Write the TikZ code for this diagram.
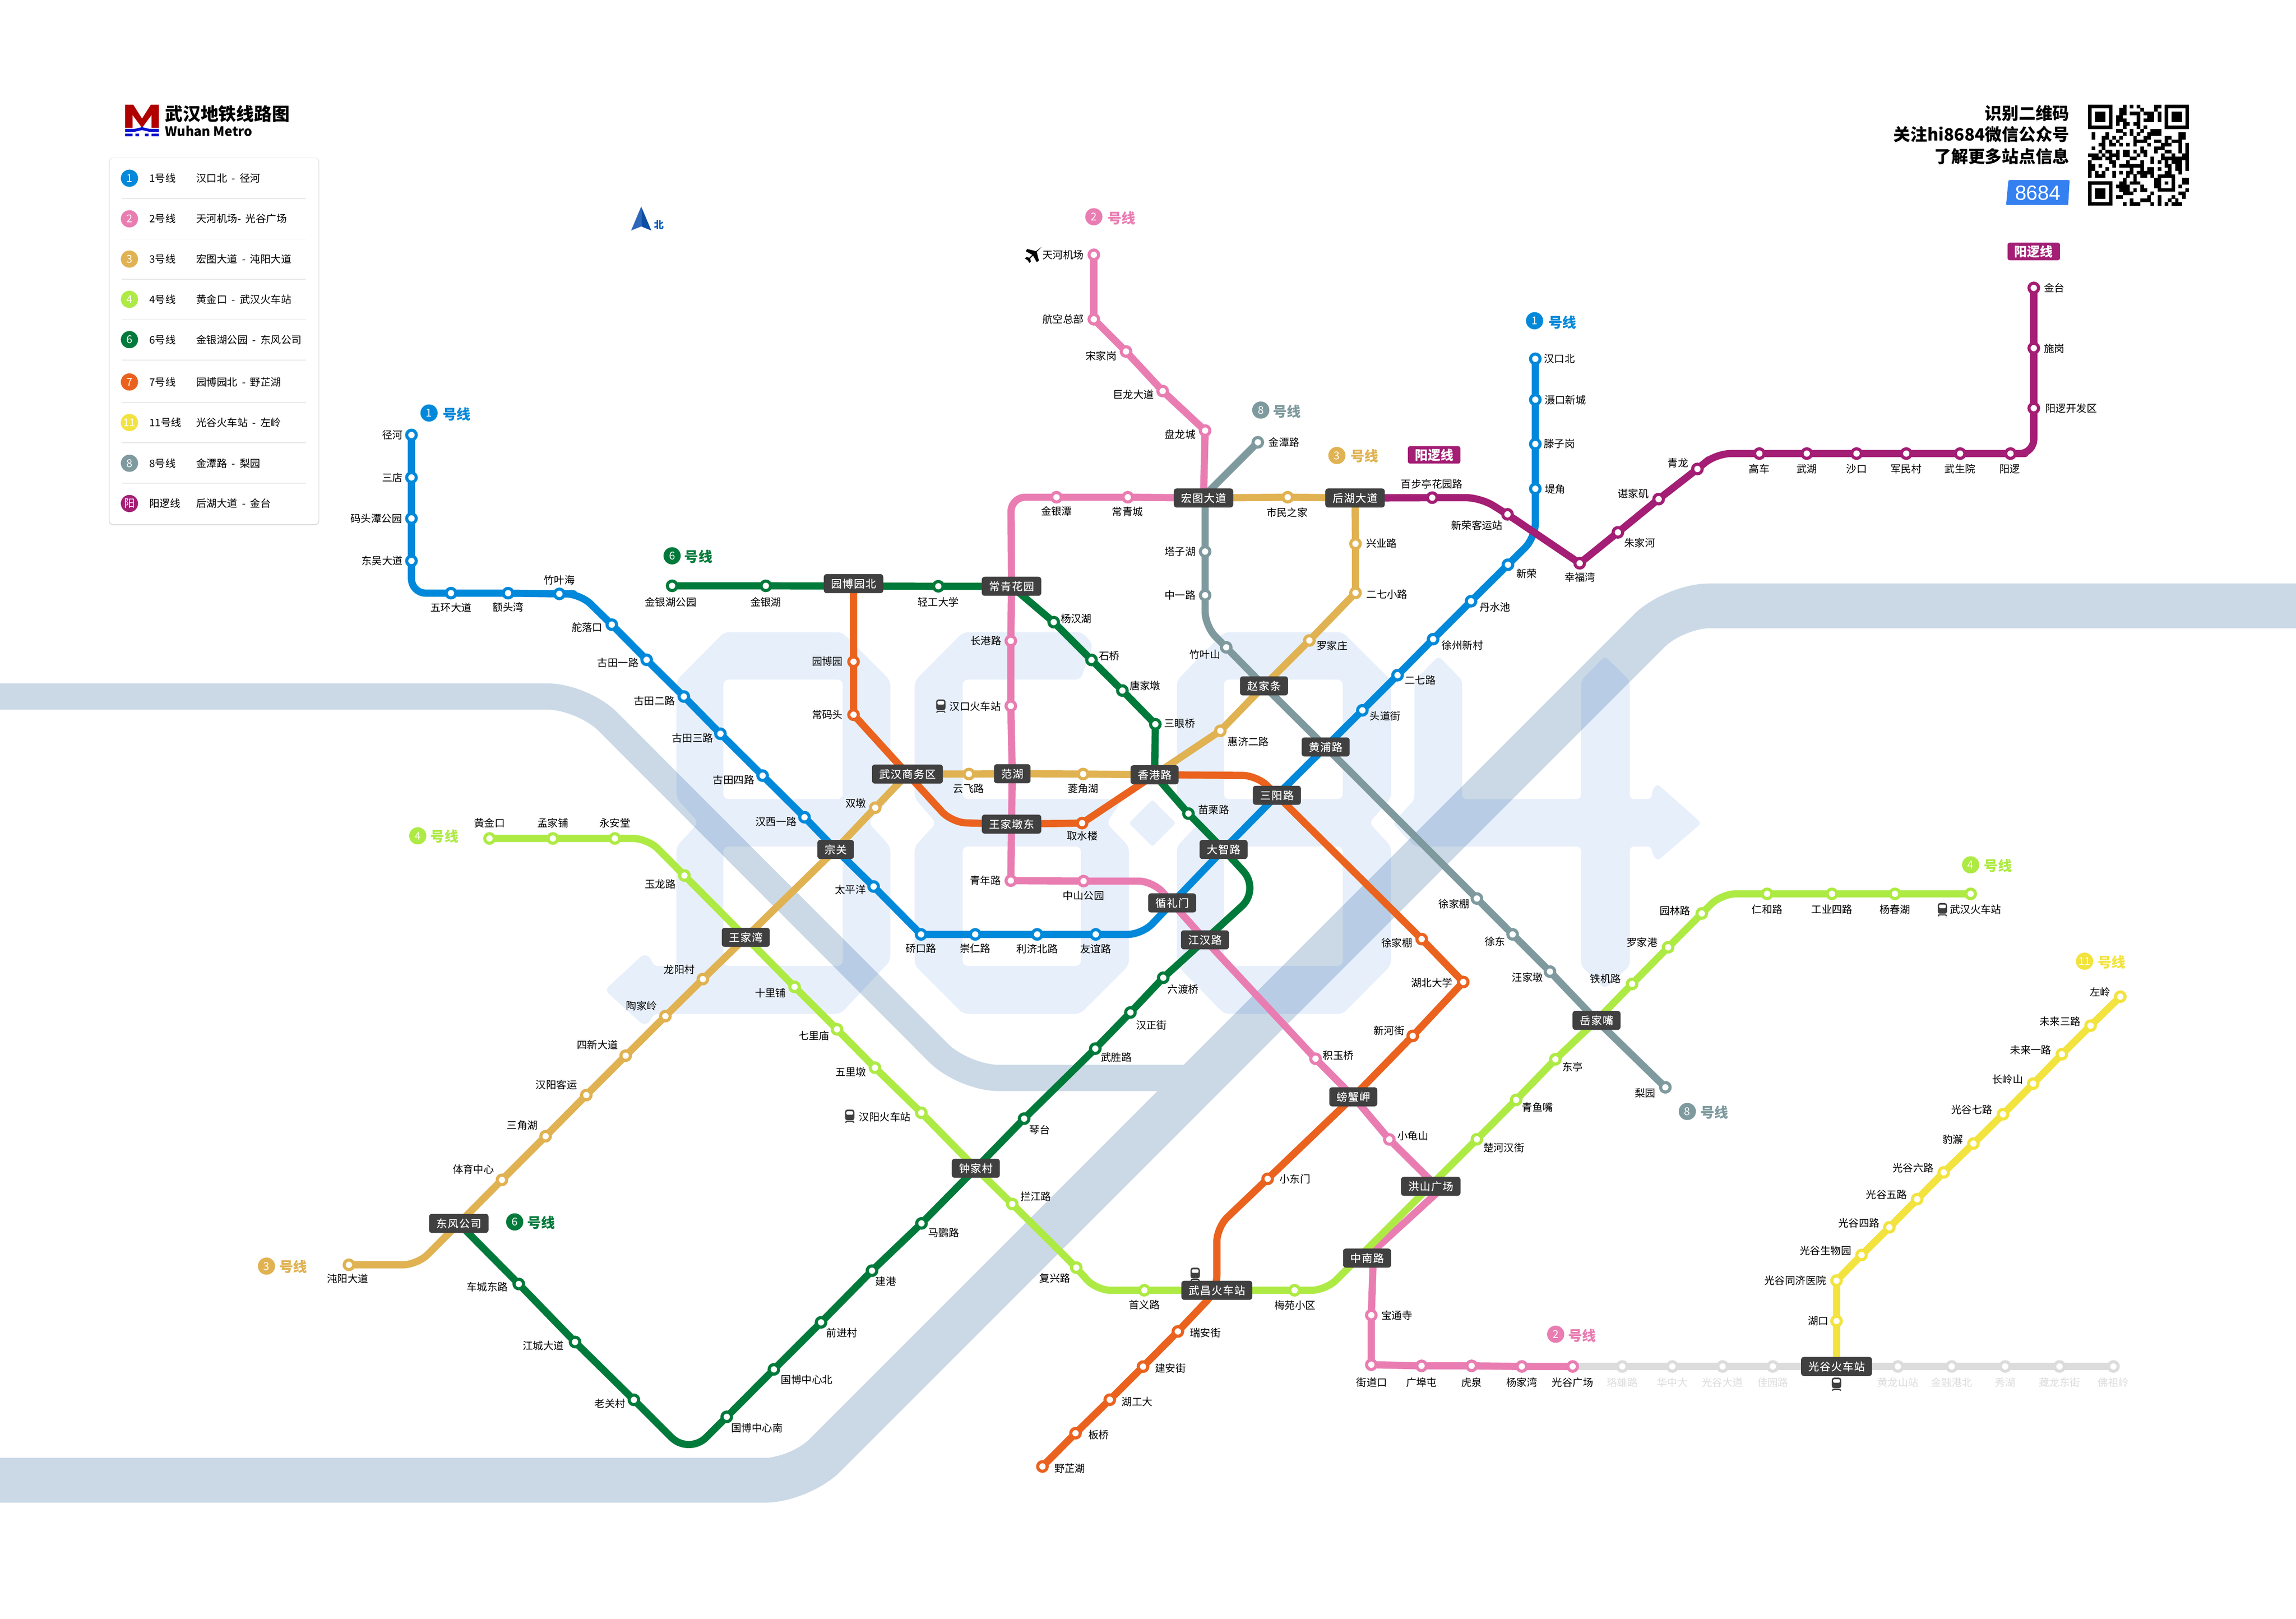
\documentclass[tikz,border=0pt]{standalone}
\usepackage{fontspec}
\setmainfont{Noto Sans CJK SC}
\newfontfamily\xf[LetterSpace=7,FakeBold=0.4]{Noto Sans CJK SC}
\newfontfamily\numf{Liberation Sans}
\definecolor{cA}{HTML}{0089DA}
\definecolor{cB}{HTML}{E97DB2}
\definecolor{cC}{HTML}{E0B252}
\definecolor{cD}{HTML}{AEEA44}
\definecolor{cF}{HTML}{007A3A}
\definecolor{cG}{HTML}{EA621E}
\definecolor{cK}{HTML}{F2E33E}
\definecolor{cH}{HTML}{7F9A9E}
\definecolor{cY}{HTML}{A31E74}
\definecolor{cX}{HTML}{DCDCDC}
\definecolor{xdark}{HTML}{404040}
\definecolor{river}{HTML}{CBD9E6}
\definecolor{wmark}{RGB}{25,105,225}
\definecolor{tagblue}{HTML}{3580F0}
\definecolor{sepgrey}{HTML}{E6E6E6}
\definecolor{logored}{HTML}{B00000}
\definecolor{logoblue}{HTML}{0A10D0}
\definecolor{nleft}{HTML}{2E68BB}
\definecolor{nright}{HTML}{0C4EA5}
\definecolor{ntext}{HTML}{0A5CC0}
\tikzset{
  stp/.style={circle,draw=#1,fill=white,line width=3pt,minimum size=9.3pt,inner sep=0pt},
  stlab/.style={font=\fontsize{10}{12}\selectfont,text=black,inner sep=0pt},
  xfer/.style={fill=xdark,text=white,rounded corners=2.8pt,minimum height=18.5pt,inner ysep=0pt,inner xsep=7pt,font=\xf\fontsize{10.4}{12}\selectfont},
  metro/.style={draw=#1,line width=7pt,rounded corners=3pt,line join=round},
  bnd/.style={rounded corners=14pt},
  bndl/.style={rounded corners=24pt},
  strt/.style={rounded corners=3pt},
  bdg/.style={circle,fill=#1,text=white,minimum size=16.7pt,inner sep=0pt,font=\fontsize{10.5}{12}\selectfont},
  lnname/.style={text=#1,inner sep=0pt,font=\bfseries\fontsize{13.5}{14}\selectfont},
  linetag/.style={fill=cY,text=white,rounded corners=2pt,minimum width=51pt,minimum height=17pt,inner sep=0pt,font=\bfseries\fontsize{12.5}{13}\selectfont},
  rv/.style={draw=river,line width=#1,rounded corners=34pt},
  legtxt/.style={text=black,inner sep=0pt,anchor=west,font=\fontsize{10}{12}\selectfont},
  toptxt/.style={text=black,inner sep=0pt,anchor=east,font=\bfseries\fontsize{16.4}{18}\selectfont},
}
\pgfdeclarelayer{backl}
\pgfdeclarelayer{linesl}
\pgfsetlayers{backl,linesl,main}
\newcommand\stn[5]{\node[stp=#2] (#1) at (#3) {}; \node[stlab] (#1t) at (#4) {#5};}
\newcommand\stg[4]{\node[stp=cX] (#1) at (#2) {}; \node[stlab,text=cX] (#1t) at (#3) {#4};}
\newcommand\lnm[6]{\node[bdg=#2] (#1b) at (#3) {#5}; \node[lnname=#2] (#1n) at (#4) {#6};}
\newcommand\legrow[6]{\node[bdg=#2] (#1b) at (88.4,#3) {#4}; \node[legtxt] (#1n) at (101.9,#3) {#5}; \node[legtxt] (#1r) at (133.9,#3) {#6};}
\newcommand\trainicon[2]{\begin{scope}[shift={(#1,#2)}]
  \fill[xdark,rounded corners=2.2pt] (-3.2,-4.4) rectangle (3.2,2.9);
  \fill[white,rounded corners=1.2pt] (-2.3,-3.3) rectangle (2.3,-0.9);
  \fill[xdark] (-2.6,3.3) -- (2.6,3.3) -- (3.2,4.6) -- (2.3,4.6) -- (2,4) -- (-2,4) -- (-2.3,4.6) -- (-3.2,4.6) -- cycle;
\end{scope}}
\begin{document}
\begin{tikzpicture}[x=0.5mm,y=-0.5mm]
\useasboundingbox (0,0) rectangle (1568,1105.33);

\begin{pgfonlayer}{backl}
\fill[white] (0,0) rectangle (1568,1105.33);
% rivers
\begin{scope}
\clip (0,0) rectangle (1568,1105.33);
\draw[rv=25.5pt] (-10,475.6) -- (398,475.6) -- (658,736) -- (822,736);
\draw[rv=43.5pt] (-10,1010.7) -- (546.3,1010.7) -- (1143.3,413.7) -- (1580,413.7);
\end{scope}
% watermark
\begin{scope}[fill=wmark,fill opacity=0.1]
\fill[even odd rule] [rounded corners=5pt]
  (494.6,431.6) -- (575,431.6) -- (608,464.6) -- (608,545) -- (593,561.7) -- (608,578) -- (608,656) -- (574,692.3) -- (445.5,692.3) -- (445.5,696) -- (440,700.5) -- (413,676) -- (440,651) -- (445.5,655) -- (445.5,659.5) -- (462,659.5) -- (462,578) -- (477,561.7) -- (462,545) -- (462,464.6) -- cycle
  (494,464) -- (575.6,464) -- (575.6,545.6) -- (494,545.6) -- cycle
  (494,578) -- (575.6,578) -- (575.6,659.5) -- (494,659.5) -- cycle;
\fill[even odd rule] [rounded corners=5pt]
  (657.8,431.6) -- (739,431.6) -- (746.5,440) -- (738,464) -- (657.4,464) -- (657.4,545.6) -- (766.8,545.6) -- (755.7,562) -- (771,578) -- (771,659) -- (737.6,692.3) -- (657.8,692.3) -- (624.6,659) -- (624.6,578) -- (639.4,562) -- (624.6,545) -- (624.6,465) -- cycle
  (657.4,578) -- (738.2,578) -- (738.2,659.5) -- (657.4,659.5) -- cycle;
\fill[rounded corners=2pt] (787,546) -- (803,562) -- (787,578) -- (771,562) -- cycle;
\fill[even odd rule] [rounded corners=5pt]
  (836,431.6) -- (917,431.6) -- (950,464.6) -- (950,545) -- (935,561.7) -- (950,578) -- (950,659) -- (917,692.3) -- (836,692.3) -- (803.7,659) -- (803.7,578) -- (819,561.7) -- (803.7,545) -- (803.7,464.6) -- cycle
  (835.8,464) -- (917,464) -- (917,545.6) -- (835.8,545.6) -- cycle
  (835.8,578) -- (917,578) -- (917,659.5) -- (835.8,659.5) -- cycle;
\fill[rounded corners=4pt]
  (966,464.6) -- (982.5,448) -- (998.6,464.6) -- (998.6,545.6) -- (1079.7,545.6) -- (1079.7,464.6) -- (1096,448) -- (1113,464.6) -- (1113,545.6) -- (1128,545.6) -- (1128,540) -- (1131.6,535) -- (1162,562) -- (1131.6,588) -- (1128,582) -- (1128,578) -- (1113,578) -- (1113,659.5) -- (1096,675) -- (1079.7,659.5) -- (1079.7,578) -- (966,578) -- (951,562) -- (966,546) -- cycle;
\end{scope}
\end{pgfonlayer}

% header
\fill[logored] (85.4,87.3) -- (85.4,71.5) -- (91,71.5) -- (97,81) -- (103,71.5) -- (108.5,71.5) -- (108.5,87.3) -- (103.5,87.3) -- (103.5,78.5) -- (97,87.3) -- (90.5,78.5) -- (90.5,87.3) -- cycle;
\fill[logoblue] (85.4,88) -- (92,88) -- (97,86.8) -- (102,88) -- (108.5,88) -- (108.5,90) -- (102,90) -- (97,88.8) -- (92,90) -- (85.4,90) -- cycle;
\fill[logoblue] (85.4,91.3) rectangle (90.5,93) (92.5,91.3) rectangle (95,93) (99,91.3) rectangle (101.5,93) (103.5,91.3) rectangle (108.5,93);
\node[text=black,inner sep=0pt,font=\bfseries\fontsize{17.3}{18}\selectfont] (title) at (155.3,77.7) {武汉地铁线路图};
\node[text=black,inner sep=0pt,anchor=west,font=\bfseries\fontsize{12.6}{14}\selectfont] (subtitle) at (112.5,89.4) {Wuhan Metro};

% legend
\fill[black!12,rounded corners=4pt] (74.3,107.7) rectangle (218,358.6);
\fill[white,rounded corners=3.5pt] (74.8,107.9) rectangle (217.5,357.8);
\foreach \sy in {135.5,163.2,190.6,218.1,245.8,274.7,302.3,330}
  \draw[sepgrey,line width=0.8pt] (83,\sy) -- (209,\sy);
\legrow{lga}{cA}{121.7}{1}{1号线}{汉口北\ \ -\ \ 径河}
\legrow{lgb}{cB}{149.4}{2}{2号线}{天河机场-\ \ 光谷广场}
\legrow{lgc}{cC}{176.9}{3}{3号线}{宏图大道\ \ -\ \ 沌阳大道}
\legrow{lgd}{cD}{204.4}{4}{4号线}{黄金口\ \ -\ \ 武汉火车站}
\legrow{lgf}{cF}{231.9}{6}{6号线}{金银湖公园\ \ -\ \ 东风公司}
\legrow{lgg}{cG}{260.8}{7}{7号线}{园博园北\ \ -\ \ 野芷湖}
\legrow{lgk}{cK}{288.5}{11}{11号线}{光谷火车站\ \ -\ \ 左岭}
\legrow{lgh}{cH}{316.3}{8}{8号线}{金潭路\ \ -\ \ 梨园}
\legrow{lgy}{cY}{343.8}{阳}{阳逻线}{后湖大道\ \ -\ \ 金台}

% north
\fill[nleft] (437.9,141) -- (431,157.4) -- (437.9,154.6) -- cycle;
\fill[nright] (437.9,141) -- (444.8,157.4) -- (437.9,154.6) -- cycle;
\node[text=ntext,inner sep=0pt,font=\bfseries\fontsize{9.5}{10}\selectfont] (north) at (450,153.5) {北};

% top right
\node[toptxt] (qa) at (1413.4,77.4) {识别二维码};
\node[toptxt] (qb) at (1413.4,91.8) {关注hi8684微信公众号};
\node[toptxt] (qc) at (1413.4,106.6) {了解更多站点信息};
\fill[tagblue,rounded corners=1pt] (1371.6,123) -- (1413.4,123) -- (1412.4,140) -- (1370,140) -- cycle;
\node[text=white,inner sep=0pt,font=\numf\fontsize{20}{20}\selectfont] (tag) at (1391.7,131.6) {8684};
% qr
\begin{scope}[shift={(1426,71.5)},x=1.188mm,y=-1.188mm]
\pgfmathsetseed{8684}
\foreach \i in {0,...,28}{\foreach \j in {0,...,28}{
  \pgfmathsetmacro\qv{rnd}
  \pgfmathtruncatemacro\qskip{(\i<8 && \j<8) || (\i>20 && \j<8) || (\i<8 && \j>20) || (\i>19 && \i<26 && \j>19 && \j<26) ? 1 : 0}
  \ifnum\qskip=0 \ifdim\qv pt>0.52pt \fill[black] (\i-0.02,\j-0.02) rectangle (\i+1.02,\j+1.02); \fi\fi
}}
\foreach \ox/\oy in {0/0,22/0,0/22}{
  \fill[black,even odd rule] (\ox,\oy) rectangle ++(7,7) (\ox+1,\oy+1) rectangle ++(5,5);
  \fill[black] (\ox+2,\oy+2) rectangle ++(3,3);
}
\fill[black,even odd rule] (20,20) rectangle ++(5,5) (21,21) rectangle ++(3,3);
\fill[black] (22,22) rectangle ++(1,1);
\end{scope}

% line names
\lnm{nA}{cA}{293,282}{312,283}{1}{号线}
\lnm{nAr}{cA}{1048,219}{1067,220}{1}{号线}
\lnm{nB}{cB}{747,148}{766,149}{2}{号线}
\lnm{nBb}{cB}{1062.4,911}{1080.5,912}{2}{号线}
\lnm{nC}{cC}{182,864.5}{200.3,865}{3}{号线}
\lnm{nCt}{cC}{913,311}{932,311.5}{3}{号线}
\lnm{nD}{cD}{285.3,570.7}{303.6,571}{4}{号线}
\lnm{nDr}{cD}{1345.8,590.5}{1364.5,591}{4}{号线}
\lnm{nF}{cF}{459,379.5}{477,380}{6}{号线}
\lnm{nFb}{cF}{351.5,834.3}{369.7,834.9}{6}{号线}
\lnm{nH}{cH}{861,280}{879,281}{8}{号线}
\lnm{nHb}{cH}{1152.3,758.9}{1170.8,759.5}{8}{号线}
\lnm{nK}{cK}{1423.6,656.3}{1442,657}{11}{号线}
\node[linetag] (tagY) at (1388.9,171.7) {阳逻线};
\node[linetag] (tagYb) at (979.4,310.6) {阳逻线};

% interchanges
\node[xfer] (xHT) at (821.9,340) {宏图大道};
\node[xfer] (xHH) at (925.4,340) {后湖大道};
\node[xfer] (xYB) at (582.9,398.5) {园博园北};
\node[xfer] (xCQ) at (690.8,400.3) {常青花园};
\node[xfer] (xZJ) at (863.2,468.3) {赵家条};
\node[xfer] (xHP) at (905.3,510) {黄浦路};
\node[xfer] (xWS) at (619.7,528.5) {武汉商务区};
\node[xfer] (xFH) at (691.3,528.3) {范湖};
\node[xfer] (xXG) at (788.5,529) {香港路};
\node[xfer] (xSY) at (872,543) {三阳路};
\node[xfer] (xWD) at (690.8,562.7) {王家墩东};
\node[xfer] (xZG) at (570.7,580) {宗关};
\node[xfer] (xDZ) at (835.6,580) {大智路};
\node[xfer] (xXL) at (800.5,616.5) {循礼门};
\node[xfer] (xWW) at (509.3,640) {王家湾};
\node[xfer] (xJH) at (822.9,641.7) {江汉路};
\node[xfer] (xYJ) at (1090.3,696.7) {岳家嘴};
\node[xfer] (xPX) at (924.2,748.9) {螃蟹岬};
\node[xfer] (xZC) at (666.4,797.7) {钟家村};
\node[xfer] (xHS) at (977.1,810) {洪山广场};
\node[xfer] (xDF) at (313.3,835.3) {东风公司};
\node[xfer] (xZN) at (933.6,859) {中南路};
\node[xfer] (xWC) at (831,881) {武昌火车站};
\node[xfer] (xGG) at (1254.2,933) {光谷火车站};

% line 1
\stn{a1}{cA}{281,297}{268,297}{径河}
\stn{a2}{cA}{281,326}{268,326}{三店}
\stn{a3}{cA}{281,354}{257,354}{码头潭公园}
\stn{a4}{cA}{281,383}{261,383}{东吴大道}
\stn{a5}{cA}{308,405}{308,415}{五环大道}
\stn{a6}{cA}{347,405}{347,414.5}{额头湾}
\stn{a7}{cA}{382,405.5}{382,396}{竹叶海}
\stn{a8}{cA}{417.8,426.5}{401,428.5}{舵落口}
\stn{a9}{cA}{441.6,450.5}{422,452.5}{古田一路}
\stn{a10}{cA}{467,475.6}{447,478.5}{古田二路}
\stn{a11}{cA}{492,501}{473,504}{古田三路}
\stn{a12}{cA}{520.8,529.6}{501,532.5}{古田四路}
\stn{a13}{cA}{549.4,558}{530,561}{汉西一路}
\stn{a14}{cA}{596.6,605.3}{580.8,607.5}{太平洋}
\stn{a15}{cA}{629,638}{629,647.7}{硚口路}
\stn{a16}{cA}{666,638}{666,647.7}{崇仁路}
\stn{a17}{cA}{708.3,638}{708.3,648}{利济北路}
\stn{a18}{cA}{748.3,638}{748.3,648}{友谊路}
\stn{a19}{cA}{930.4,485}{946,489}{头道街}
\stn{a20}{cA}{954.4,461}{970,464.5}{二七路}
\stn{a21}{cA}{978.7,436.4}{998.7,440.6}{徐州新村}
\stn{a22}{cA}{1004.6,410.5}{1021,414.7}{丹水池}
\stn{a23}{cA}{1029.8,385.6}{1042.6,391.6}{新荣}
\stn{a24}{cA}{1048.5,333.7}{1062,334}{堤角}
\stn{a25}{cA}{1048.5,303.2}{1065,303}{滕子岗}
\stn{a26}{cA}{1048.5,272.9}{1069,273}{滠口新城}
\stn{a27}{cA}{1048.5,245}{1065,245}{汉口北}
% line 2
\stn{b1}{cB}{747,174}{726,174}{天河机场}
\stn{b2}{cB}{747,218}{726,218}{航空总部}
\stn{b3}{cB}{769,240}{752,243}{宋家岗}
\stn{b4}{cB}{794,267}{774,269.5}{巨龙大道}
\stn{b5}{cB}{823,294}{806,296.5}{盘龙城}
\stn{b6}{cB}{770.2,339.5}{770,349.5}{常青城}
\stn{b7}{cB}{721.5,339.5}{721.5,349}{金银潭}
\stn{b8}{cB}{690.3,437.6}{673.3,437.6}{长港路}
\stn{b9}{cB}{690.3,482}{666,482.3}{汉口火车站}
\stn{b10}{cB}{690.3,601.3}{673,601.3}{青年路}
\stn{b11}{cB}{740,601.6}{740,611.6}{中山公园}
\stn{b12}{cB}{898.4,722.9}{914,720.6}{积玉桥}
\stn{b13}{cB}{948.8,778}{965,775.4}{小龟山}
\stn{b14}{cB}{936.5,898}{954,898}{宝通寺}
\stn{b15}{cB}{936.5,931.8}{936.8,944}{街道口}
\stn{b16}{cB}{970.8,932.6}{970.8,944}{广埠屯}
\stn{b17}{cB}{1005,932.6}{1005,944}{虎泉}
\stn{b18}{cB}{1039.3,933}{1039.3,944}{杨家湾}
\stn{b19}{cB}{1074,933}{1074,944}{光谷广场}
\stg{g1}{1107.9,933}{1107.9,944}{珞雄路}
\stg{g2}{1142.1,933}{1142.1,944}{华中大}
\stg{g3}{1176.4,933}{1176.4,944}{光谷大道}
\stg{g4}{1210.7,933}{1210.7,944}{佳园路}
\stg{g5}{1296.1,933}{1296.1,944}{黄龙山站}
\stg{g6}{1332.9,933}{1332.9,944}{金融港北}
\stg{g7}{1369.4,933}{1369.4,944}{秀湖}
\stg{g8}{1406.5,933}{1406.5,944}{藏龙东街}
\stg{g9}{1443.3,933}{1443.3,944}{佛祖岭}
% line 3
\stn{c1}{cC}{238.3,863.6}{237.5,873}{沌阳大道}
\stn{c2}{cC}{342.8,805.6}{323.3,798.5}{体育中心}
\stn{c3}{cC}{372.6,775.8}{356.7,768.3}{三角湖}
\stn{c4}{cC}{400.4,747.7}{380,740.8}{汉阳客运}
\stn{c5}{cC}{427.3,720.8}{408,713.4}{四新大道}
\stn{c6}{cC}{454.4,693.8}{438.2,686.9}{陶家岭}
\stn{c7}{cC}{480,668.5}{464,662}{龙阳村}
\stn{c8}{cC}{597.7,551.5}{584.5,548.5}{双墩}
\stn{c9}{cC}{661.7,528.5}{661.5,538.5}{云飞路}
\stn{c10}{cC}{739.7,528.5}{739.7,538.5}{菱角湖}
\stn{c11}{cC}{833.4,499}{852.5,506.4}{惠济二路}
\stn{c12}{cC}{894.2,437.3}{909.7,440.9}{罗家庄}
\stn{c13}{cC}{925.7,404.8}{947.2,405.9}{二七小路}
\stn{c14}{cC}{925.7,371.3}{943.5,371}{兴业路}
\stn{c15}{cC}{879.4,339.5}{879,349.9}{市民之家}
% line 4
\stn{d1}{cD}{334.3,572.5}{334.3,562}{黄金口}
\stn{d2}{cD}{377.6,572.5}{377.6,562}{孟家铺}
\stn{d3}{cD}{419.9,572.5}{419.9,562}{永安堂}
\stn{d4}{cD}{467.4,597.8}{450.9,603.7}{玉龙路}
\stn{d5}{cD}{542.6,673.8}{526.1,677.9}{十里铺}
\stn{d6}{cD}{571.6,702.8}{555.9,707.2}{七里庙}
\stn{d7}{cD}{597.5,729}{581,731.8}{五里墩}
\stn{d8}{cD}{629.2,759.8}{604.3,762.5}{汉阳火车站}
\stn{d9}{cD}{691.3,822.1}{707.4,817}{拦江路}
\stn{d10}{cD}{735,865.5}{720.5,872.8}{复兴路}
\stn{d11}{cD}{781.5,881}{781.5,890.9}{首义路}
\stn{d12}{cD}{884.1,881}{884.4,891.3}{梅苑小区}
\stn{d13}{cD}{1008.6,777.9}{1027,783.6}{楚河汉街}
\stn{d14}{cD}{1035.4,751}{1050,756}{青鱼嘴}
\stn{d15}{cD}{1062.2,723.3}{1074,728.6}{东亭}
\stn{d16}{cD}{1114.6,671.8}{1096.5,668.3}{铁机路}
\stn{d17}{cD}{1139.2,646.8}{1121.4,643.6}{罗家港}
\stn{d18}{cD}{1162.2,623.7}{1143.9,621.9}{园林路}
\stn{d19}{cD}{1206.8,610.3}{1206.8,621}{仁和路}
\stn{d20}{cD}{1251.1,610.3}{1251.1,621}{工业四路}
\stn{d21}{cD}{1294.1,610.3}{1294.1,621}{杨春湖}
\stn{d22}{cD}{1345.8,610.3}{1349.2,621}{武汉火车站}
% line 6
\stn{f1}{cF}{459,400}{458,411}{金银湖公园}
\stn{f2}{cF}{523,400}{523,411}{金银湖}
\stn{f3}{cF}{640.8,400.3}{640.8,411}{轻工大学}
\stn{f4}{cF}{719.6,424.8}{735,422.3}{杨汉湖}
\stn{f5}{cF}{745.4,450.6}{757.6,447.9}{石桥}
\stn{f6}{cF}{766.5,471.5}{782,468.3}{唐家墩}
\stn{f7}{cF}{789,494.5}{805.6,494}{三眼桥}
\stn{f8}{cF}{811.6,555.5}{828.8,553}{苗栗路}
\stn{f9}{cF}{794.4,667.6}{808,675.6}{六渡桥}
\stn{f10}{cF}{772,691.3}{786.4,700}{汉正街}
\stn{f11}{cF}{748,716}{762.3,721.9}{武胜路}
\stn{f12}{cF}{699.4,763.8}{710,771.5}{琴台}
\stn{f13}{cF}{629.3,835.3}{644.5,841.8}{马鹦路}
\stn{f14}{cF}{595.5,867.6}{605,875}{建港}
\stn{f15}{cF}{560.7,902.9}{575,910}{前进村}
\stn{f16}{cF}{528.5,935}{551,942}{国博中心北}
\stn{f17}{cF}{496.3,967.4}{517,975}{国博中心南}
\stn{f18}{cF}{432.9,955.8}{416.6,958.4}{老关村}
\stn{f19}{cF}{392.7,916.3}{371,918.8}{江城大道}
\stn{f20}{cF}{354.3,876.7}{332.8,878.8}{车城东路}
% line 7
\stn{h1}{cG}{582.9,451.8}{565,451.6}{园博园}
\stn{h2}{cG}{582.9,488}{565,488}{常码头}
\stn{h3}{cG}{739,562}{739.2,570.6}{取水楼}
\stn{h4}{cG}{970.9,641.2}{954,643.9}{徐家棚}
\stn{h5}{cG}{999.3,670.5}{977.8,671}{湖北大学}
\stn{h6}{cG}{964.8,707.3}{948.6,703.7}{新河街}
\stn{h7}{cG}{865.7,804.9}{884.4,804.9}{小东门}
\stn{h8}{cG}{804.4,909.1}{823.2,910.2}{瑞安街}
\stn{h9}{cG}{780.6,933.1}{799.3,934.2}{建安街}
\stn{h10}{cG}{757.9,955.7}{776.6,957}{湖工大}
\stn{h11}{cG}{734.5,978.6}{750.3,979.7}{板桥}
\stn{h12}{cG}{711.9,1001.3}{730.6,1002.6}{野芷湖}
% line 8
\stn{i1}{cH}{859,302}{877,302}{金潭路}
\stn{i2}{cH}{823,376.6}{806,376.6}{塔子湖}
\stn{i3}{cH}{823,406.4}{806,406.4}{中一路}
\stn{i4}{cH}{837.4,442}{822.9,446.8}{竹叶山}
\stn{i5}{cH}{1008.6,613.5}{993,617}{徐家棚}
\stn{i6}{cH}{1033,638}{1021,643}{徐东}
\stn{i7}{cH}{1058.5,663.4}{1043.2,667.2}{汪家墩}
\stn{i8}{cH}{1137.3,742.4}{1123.6,746.3}{梨园}
% line 11
\stn{k1}{cK}{1448,680.5}{1434.3,677.4}{左岭}
\stn{k2}{cK}{1427.7,700.3}{1406.8,697.3}{未来三路}
\stn{k3}{cK}{1408.1,719.8}{1386.9,717}{未来一路}
\stn{k4}{cK}{1388.5,739.9}{1371,736.9}{长岭山}
\stn{k5}{cK}{1367.9,760.8}{1346.7,757.8}{光谷七路}
\stn{k6}{cK}{1347.7,780.8}{1333.6,777.9}{豹澥}
\stn{k7}{cK}{1327.4,800.5}{1306.5,797.5}{光谷六路}
\stn{k8}{cK}{1309.3,818.8}{1288.4,815.8}{光谷五路}
\stn{k9}{cK}{1290.3,838}{1269.5,835}{光谷四路}
\stn{k10}{cK}{1271.3,856.9}{1246.7,854}{光谷生物园}
\stn{k11}{cK}{1254.2,874.4}{1226.1,874.4}{光谷同济医院}
\stn{k12}{cK}{1254.2,902}{1241.7,902}{湖口}
% yangluo
\stn{y1}{cY}{978.1,339.8}{977.8,330.5}{百步亭花园路}
\stn{y2}{cY}{1029.5,351.2}{1008.6,358.6}{新荣客运站}
\stn{y3}{cY}{1078.8,384.6}{1079,394}{幸福湾}
\stn{y4}{cY}{1104.9,363.5}{1119.9,370.7}{朱家河}
\stn{y5}{cY}{1132.7,340.8}{1115.5,337.2}{谌家矶}
\stn{y6}{cY}{1159.2,320.2}{1146,316}{青龙}
\stn{y7}{cY}{1201.5,309.7}{1201.5,320.3}{高车}
\stn{y8}{cY}{1233.9,309.7}{1233.9,320.3}{武湖}
\stn{y9}{cY}{1267.9,309.7}{1267.9,320.3}{沙口}
\stn{y10}{cY}{1301.8,309.7}{1301.8,320.3}{军民村}
\stn{y11}{cY}{1338.6,309.7}{1338.6,320.3}{武生院}
\stn{y12}{cY}{1373,309.7}{1372.5,320.3}{阳逻}
\stn{y13}{cY}{1388.9,278.7}{1414.5,278.7}{阳逻开发区}
\stn{y14}{cY}{1388.9,237.7}{1403,237.9}{施岗}
\stn{y15}{cY}{1388.9,196.6}{1402.9,196.6}{金台}

% bends
\coordinate (ba1) at (281,405);
\coordinate (ba2) at (396.3,405.5);
\coordinate (ba3) at (780,638);
\coordinate (ba4) at (1048.5,367);
\coordinate (bb1) at (690.4,339.5);
\coordinate (bb2) at (787.3,601.6);
\coordinate (bb3) at (975,804);
\coordinate (bb4) at (984,812);
\coordinate (bb5) at (938,854);
\coordinate (bc1) at (285,863.6);
\coordinate (bd1) at (442.3,572.5);
\coordinate (bd2) at (748.6,881);
\coordinate (bd3) at (905.5,881);
\coordinate (bd4) at (1175.6,610.3);
\coordinate (bf1) at (860.5,607.4);
\coordinate (bf2) at (470.4,993.3);
\coordinate (bg1) at (650,561.6);
\coordinate (bg2) at (858.4,529.5);
\coordinate (bg3) at (831,838);
\coordinate (bh1) at (823,338);
\coordinate (bh2) at (823,427.5);
\coordinate (by1) at (1388.9,309.7);
\coordinate (by2) at (1172,309.7);
\coordinate (by3) at (1011,339.8);

\begin{pgfonlayer}{linesl}
\draw[metro=cX] (b19.center) -- (g1.center) -- (g2.center) -- (g3.center) -- (g4.center) -- (xGG.center) -- (g5.center) -- (g6.center) -- (g7.center) -- (g8.center) -- (g9.center);
\draw[metro=cA] (a1.center) -- (a2.center) -- (a3.center) [bnd] -- (a4.center) -- (ba1) -- (a5.center) -- (a6.center) -- (a7.center) -- (ba2) -- (a8.center) [strt] -- (a9.center) -- (a10.center) -- (a11.center) -- (a12.center) -- (a13.center) -- (xZG.center) -- (a14.center) -- (a15.center) -- (a16.center) -- (a17.center) [bnd] -- (a18.center) -- (ba3) -- (xXL.center) [strt] -- (xDZ.center) -- (xSY.center) -- (xHP.center) -- (a19.center) -- (a20.center) -- (a21.center) -- (a22.center) [bnd] -- (a23.center) -- (ba4) -- (a24.center) [strt] -- (a25.center) -- (a26.center) -- (a27.center);
\draw[metro=cB] (b1.center) -- (b2.center) -- (b3.center) -- (b4.center) -- (b5.center) -- (xHT.center) -- (b6.center) [bnd] -- (b7.center) -- (bb1) -- (xCQ.center) [strt] -- (b8.center) -- (b9.center) -- (xFH.center) -- (xWD.center) -- (b10.center) -- (b11.center) [bnd] -- (bb2) -- (xXL.center) [strt] -- (xJH.center) -- (b12.center) -- (xPX.center) -- (b13.center) -- (bb3) -- (bb4) -- (bb5) -- (b14.center) -- (b15.center) -- (b16.center) -- (b17.center) -- (b18.center) -- (b19.center);
\draw[metro=cC] [bnd] (c1.center) -- (bc1) -- (xDF.center) [strt] -- (c2.center) -- (c3.center) -- (c4.center) -- (c5.center) -- (c6.center) -- (c7.center) -- (xWW.center) -- (xZG.center) -- (c8.center) -- (xWS.center) -- (c9.center) -- (xFH.center) -- (c10.center) -- (xXG.center) -- (c11.center) -- (xZJ.center) -- (c12.center) -- (c13.center) -- (c14.center) -- (xHH.center) -- (c15.center) -- (xHT.center);
\draw[metro=cD] (d1.center) -- (d2.center) [bnd] -- (d3.center) -- (bd1) -- (d4.center) [strt] -- (xWW.center) -- (d5.center) -- (d6.center) -- (d7.center) -- (d8.center) -- (xZC.center) -- (d9.center) [bnd] -- (d10.center) -- (bd2) -- (d11.center) -- (xWC.center) -- (d12.center) -- (bd3) -- (d13.center) [strt] -- (d14.center) -- (d15.center) -- (xYJ.center) -- (d16.center) -- (d17.center) [bnd] -- (d18.center) -- (bd4) -- (d19.center) [strt] -- (d20.center) -- (d21.center) -- (d22.center);
\draw[metro=cF] (f1.center) -- (f2.center) -- (f3.center) -- (xCQ.center) -- (f4.center) -- (f5.center) -- (f6.center) -- (f7.center) -- (xXG.center) -- (f8.center) [bndl] -- (xDZ.center) -- (bf1) -- (xJH.center) [strt] -- (f9.center) -- (f10.center) -- (f11.center) -- (f12.center) -- (xZC.center) -- (f13.center) -- (f14.center) -- (f15.center) -- (f16.center) [bndl] -- (f17.center) -- (bf2) -- (f18.center) [strt] -- (f19.center) -- (f20.center) -- (xDF.center);
\draw[metro=cG] (xYB.center) -- (h1.center) -- (h2.center) [bnd] -- (xWS.center) -- (bg1) -- (xWD.center) [strt] -- (h3.center) -- (xXG.center) [bnd] -- (bg2) -- (xSY.center) [strt] -- (h4.center) -- (h5.center) -- (h6.center) -- (xPX.center) [bnd] -- (h7.center) -- (bg3) -- (xWC.center) [strt] -- (h8.center) -- (h9.center) -- (h10.center) -- (h11.center) -- (h12.center);
\draw[metro=cH] (i1.center) -- (bh1) -- (i2.center) [bnd] -- (i3.center) -- (bh2) -- (i4.center) [strt] -- (xZJ.center) -- (xHP.center) -- (i5.center) -- (i6.center) -- (i7.center) -- (xYJ.center) -- (i8.center);
\draw[metro=cK] (k1.center) -- (k2.center) -- (k3.center) -- (k4.center) -- (k5.center) -- (k6.center) -- (k7.center) -- (k8.center) -- (k9.center) -- (k10.center) -- (k11.center) -- (k12.center) -- (xGG.center);
\draw[metro=cY] [bnd] (xHH.center) -- (y1.center) -- (by3) -- (y2.center) [strt] -- (y3.center) -- (y4.center) -- (y5.center) [bnd] -- (y6.center) -- (by2) -- (y7.center) [strt] -- (y8.center) -- (y9.center) -- (y10.center) -- (y11.center) [bnd] -- (y12.center) -- (by1) -- (y13.center) [strt] -- (y14.center) -- (y15.center);
\end{pgfonlayer}

% icons
\trainicon{642.5}{482}
\trainicon{580.3}{762}
\trainicon{1326.5}{621}
\trainicon{816.2}{870}
\trainicon{1254.2}{945}
\fill[black] (711.5,168.5) -- (708,172) -- (709.5,178) -- (708,179) -- (705.5,174.5) -- (703.5,176.5) -- (704,178.5) -- (703,179.5) -- (701.8,177.7) -- (700,176.5) -- (701,175.5) -- (703,176) -- (705,174) -- (700.5,171.5) -- (701.5,170) -- (707.5,171.5) -- cycle;
\end{tikzpicture}
\end{document}
